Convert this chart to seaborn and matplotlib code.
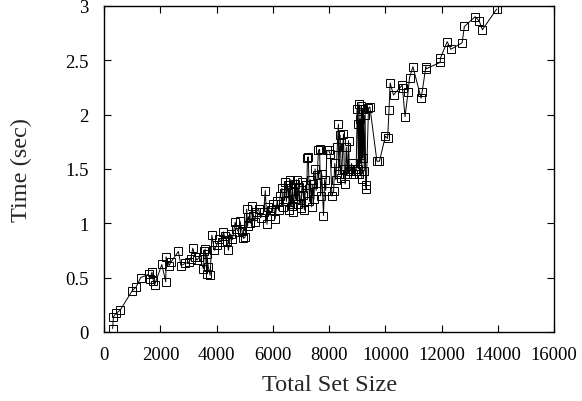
import pandas as pd
import matplotlib
matplotlib.use("Agg")
import matplotlib.pyplot as plt
import seaborn as sns

# total set size vs time
set_size = [300, 330, 420, 570, 1000, 1130, 1300, 1580, 1640, 1700, 1750, 1790,
            2050, 2190, 2200, 2310, 2370, 2640, 2730, 2880, 3000, 3080, 3150, 3240,
            3300, 3390, 3530, 3560, 3590, 3650, 3650, 3700, 3770, 3830, 3920, 4000,
            4100, 4180, 4240, 4280, 4360, 4420, 4500, 4560, 4660, 4700, 4780, 4830,
            4900, 4950, 5010, 5070, 5100, 5130, 5200, 5250, 5310, 5350, 5400, 5490,
            5560, 5670, 5730, 5790, 5840, 5900, 5950, 6020, 6080, 6150, 6200, 6260,
            6320, 6360, 6400, 6440, 6480, 6520, 6550, 6590, 6620, 6670, 6700, 6730,
            6770, 6800, 6840, 6880, 6920, 6960, 7000, 7040, 7080, 7120, 7160, 7200,
            7230, 7260, 7300, 7340, 7380, 7420, 7460, 7500, 7540, 7580, 7620, 7660,
            7700, 7740, 7800, 7840, 7880, 7920, 7980, 8040, 8100, 8160, 8200, 8240,
            8290, 8330, 8340, 8390, 8440, 8510, 8540, 8570, 8610, 8650, 8690, 8720,
            8750, 8800, 8850, 8930, 8960, 9000, 9020, 9040, 9060, 9080, 9100, 9120,
            9140, 9160, 9180, 9200, 9220, 9250, 9280, 9300, 9320, 9400, 9450, 9700,
            9790, 10000, 10080, 10130, 10170, 10290, 10600, 10610, 10700, 10810, 10860,
            10980, 11270, 11310, 11440, 11450, 11950, 11960, 12200, 12330, 12730,
            12810, 13190, 13340, 13450, 13960]
time_sec = [0.03, 0.14, 0.17, 0.20, 0.38, 0.41, 0.50, 0.53, 0.49, 0.55, 0.47, 0.43,
            0.62, 0.46, 0.69, 0.61, 0.64, 0.74, 0.61, 0.63, 0.64, 0.67, 0.77, 0.69,
            0.66, 0.69, 0.58, 0.74, 0.76, 0.53, 0.72, 0.60, 0.52, 0.89, 0.75, 0.80,
            0.85, 0.83, 0.92, 0.88, 0.84, 0.75, 0.90, 0.85, 1.01, 0.95, 0.92, 1.02,
            0.93, 0.86, 0.87, 1.13, 0.97, 1.06, 1.00, 1.16, 1.07, 1.01, 1.10, 1.13,
            1.05, 1.10, 1.30, 0.99, 1.15, 1.07, 1.12, 1.18, 1.04, 1.20, 1.12, 1.25,
            1.32, 1.15, 1.28, 1.38, 1.20, 1.35, 1.29, 1.12, 1.40, 1.16, 1.30, 1.10,
            1.36, 1.22, 1.40, 1.18, 1.33, 1.25, 1.14, 1.38, 1.26, 1.12, 1.35, 1.28,
            1.60, 1.61, 1.20, 1.40, 1.15, 1.36, 1.22, 1.50, 1.30, 1.44, 1.67, 1.68,
            1.25, 1.45, 1.07, 1.40, 1.30, 1.67, 1.67, 1.64, 1.25, 1.30, 1.55, 1.40,
            1.70, 1.91, 1.45, 1.81, 1.42, 1.82, 1.50, 1.36, 1.70, 1.45, 1.76, 1.50,
            1.48, 1.55, 1.45, 1.50, 1.48, 2.05, 1.91, 1.50, 2.10, 1.45, 1.96, 1.55,
            2.08, 1.41, 2.05, 1.60, 2.05, 1.48, 2.00, 1.35, 1.31, 2.06, 2.07, 1.57,
            1.57, 1.80, 1.78, 2.04, 2.29, 2.18, 2.27, 2.24, 1.98, 2.21, 2.34,
            2.44, 2.15, 2.21, 2.44, 2.42, 2.48, 2.52, 2.67, 2.60, 2.66,
            2.81, 2.90, 2.86, 2.78, 2.97]

df = pd.DataFrame({"size": set_size, "time": time_sec})

sns.set_style("ticks")
plt.rcParams["font.family"] = ["Liberation Serif", "DejaVu Serif"]

fig = plt.figure(figsize=(5.82, 4.02), dpi=100)
ax = fig.add_axes([0.179, 0.172, 0.773, 0.811])

sns.lineplot(data=df, x="size", y="time", ax=ax, sort=False, estimator=None,
             color="black", lw=0.7, marker="s", markersize=6,
             markerfacecolor="none", markeredgecolor="black", markeredgewidth=0.7)

ax.set_xlim(0, 16000)
ax.set_ylim(0, 3)
ax.set_xticks(range(0, 16001, 2000))
ax.set_yticks([0, 0.5, 1, 1.5, 2, 2.5, 3])
ax.set_yticklabels(["0", "0.5", "1", "1.5", "2", "2.5", "3"])
ax.tick_params(direction="in", length=5, width=0.8, top=True, right=True,
               labelsize=13.5, colors="black")
ax.tick_params(axis="x", pad=10)
ax.tick_params(axis="y", pad=11)
for s in ax.spines.values():
    s.set_linewidth(1.0)
    s.set_color("black")

ax.set_xlabel("Total Set Size", fontsize=17.5, labelpad=8)
ax.set_ylabel("Time (sec)", fontsize=17.5, labelpad=24)

fig.savefig("out.png", dpi=100)
